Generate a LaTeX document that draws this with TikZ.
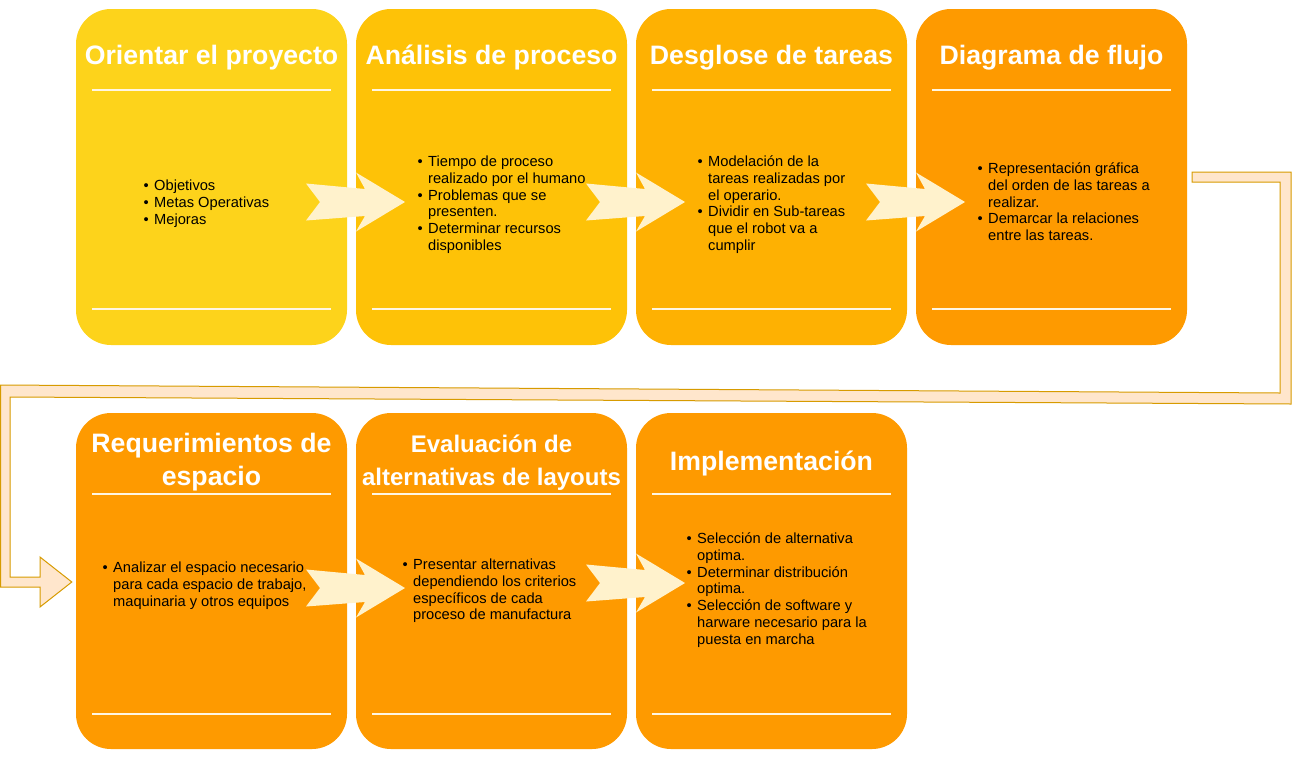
\documentclass[tikz,border=0pt]{standalone}
\usepackage{fontspec}
\setmainfont{Liberation Sans}
\definecolor{cardA}{HTML}{FDD31B}
\definecolor{cardB}{HTML}{FEC207}
\definecolor{cardC}{HTML}{FEB102}
\definecolor{cardD}{HTML}{FE9A00}
\definecolor{cardE}{HTML}{FE9A00}
\definecolor{arrowfill}{HTML}{FFF2CC}
\definecolor{bentfill}{HTML}{FFE6CC}
\definecolor{bentdraw}{HTML}{D79B00}
\definecolor{sepcol}{HTML}{FFF6E2}
\newcommand\itembul{\llap{\textbullet\hspace{5.5pt}}}
\begin{document}
\begin{tikzpicture}[x=1pt,y=-1pt,
  card/.style={rounded corners=35pt, minimum width=271pt, minimum height=336pt, inner sep=0pt, draw=none},
  ttl/.style={anchor=north, inner sep=0pt, text=white, font=\bfseries\fontsize{26.67}{33}\selectfont, align=center},
  ttlsmall/.style={ttl, font=\bfseries\fontsize{24}{33}\selectfont},
  body/.style={anchor=north west, inner sep=0pt, font=\fontsize{14.67}{16.9}\selectfont, align=left},
  sepline/.style={draw=sepcol, line width=2pt},
  flowarrow/.pic={\fill[arrowfill] (0,-18.5) -- (59,-13) -- (50,-29.5) -- (99,0) -- (50,29.5) -- (59,14) -- (0,18.5) -- (14,0) -- cycle;}
]
\useasboundingbox (0,0) rectangle (1292,758);

% cards
\node[card, fill=cardA] (c1) at (211.5,177) {};
\node[card, fill=cardB] (c2) at (491.5,177) {};
\node[card, fill=cardC] (c3) at (771.5,177) {};
\node[card, fill=cardD] (c4) at (1051.5,177) {};
\node[card, fill=cardE] (c5) at (211.5,581) {};
\node[card, fill=cardE] (c6) at (491.5,581) {};
\node[card, fill=cardE] (c7) at (771.5,581) {};

% separator lines
\foreach \cx in {211.5,491.5,771.5,1051.5} {
  \draw[sepline] (\cx-119.5,89.5) -- (\cx+119.5,89.5);
  \draw[sepline] (\cx-119.5,309.3) -- (\cx+119.5,309.3);
}
\foreach \cx in {211.5,491.5,771.5} {
  \draw[sepline] (\cx-119.5,494) -- (\cx+119.5,494);
  \draw[sepline] (\cx-119.5,714) -- (\cx+119.5,714);
}

% titles
\node[ttl] (t1) at (211.5,41) {\strut Orientar el proyecto};
\node[ttl] (t2) at (491.5,41) {\strut Análisis de proceso};
\node[ttl] (t3) at (771.5,41) {\strut Desglose de tareas};
\node[ttl] (t4) at (1051.5,41) {\strut Diagrama de flujo};
\node[ttl] (t5) at (211.5,429) {\strut Requerimientos de\\espacio};
\node[ttlsmall] (t6) at (491.5,429.5) {\strut Evaluación de\\alternativas de layouts};
\node[ttl] (t7) at (771.5,447) {\strut Implementación};

% bodies
\node[body] (b1) at (154,178.2) {\strut\itembul Objetivos\\\itembul Metas Operativas\\\itembul Mejoras};
\node[body] (b2) at (428,154.2) {\strut\itembul Tiempo de proceso\\realizado por el humano\\\itembul Problemas que se\\presenten.\\\itembul Determinar recursos\\disponibles};
\node[body] (b3) at (708,154.2) {\strut\itembul Modelación de la\\tareas realizadas por\\el operario.\\\itembul Dividir en Sub-tareas\\que el robot va a\\cumplir};
\node[body] (b4) at (988,161.2) {\strut\itembul Representación gráfica\\del orden de las tareas a\\realizar.\\\itembul Demarcar la relaciones\\entre las tareas.};
\node[body] (b5) at (113,560.2) {\strut\itembul Analizar el espacio necesario\\para cada espacio de trabajo,\\maquinaria y otros equipos};
\node[body] (b6) at (413,557.2) {\strut\itembul Presentar alternativas\\dependiendo los criterios\\específicos de cada\\proceso de manufactura};
\node[body] (b7) at (697,531.2) {\strut\itembul Selección de alternativa\\optima.\\\itembul Determinar distribución\\optima.\\\itembul Selección de software y\\harware necesario para la\\puesta en marcha};

% flow arrows between cards
\pic at (306,202) {flowarrow};
\pic at (586,202) {flowarrow};
\pic at (866,202) {flowarrow};
\pic at (306,588) {flowarrow};
\pic at (586,583) {flowarrow};

% bent connector from c4 to c5
\coordinate (bstart) at ([xshift=5pt]c4.east);
\coordinate (bend) at ([xshift=-4pt,yshift=-1pt]c5.west);
\filldraw[fill=bentfill, draw=bentdraw, line width=1pt, line join=miter]
  ([yshift=5pt]bstart) -- (1291,172) -- (1291,404) -- (10,397) -- (10,577) -- (40,577) -- (40,557)
  -- (bend) -- (40,607) -- (40,587) -- (0.5,587) -- (0.5,385) -- (1280,393) -- (1280,182) -- ([yshift=-5pt]bstart) -- cycle;
\end{tikzpicture}
\end{document}
